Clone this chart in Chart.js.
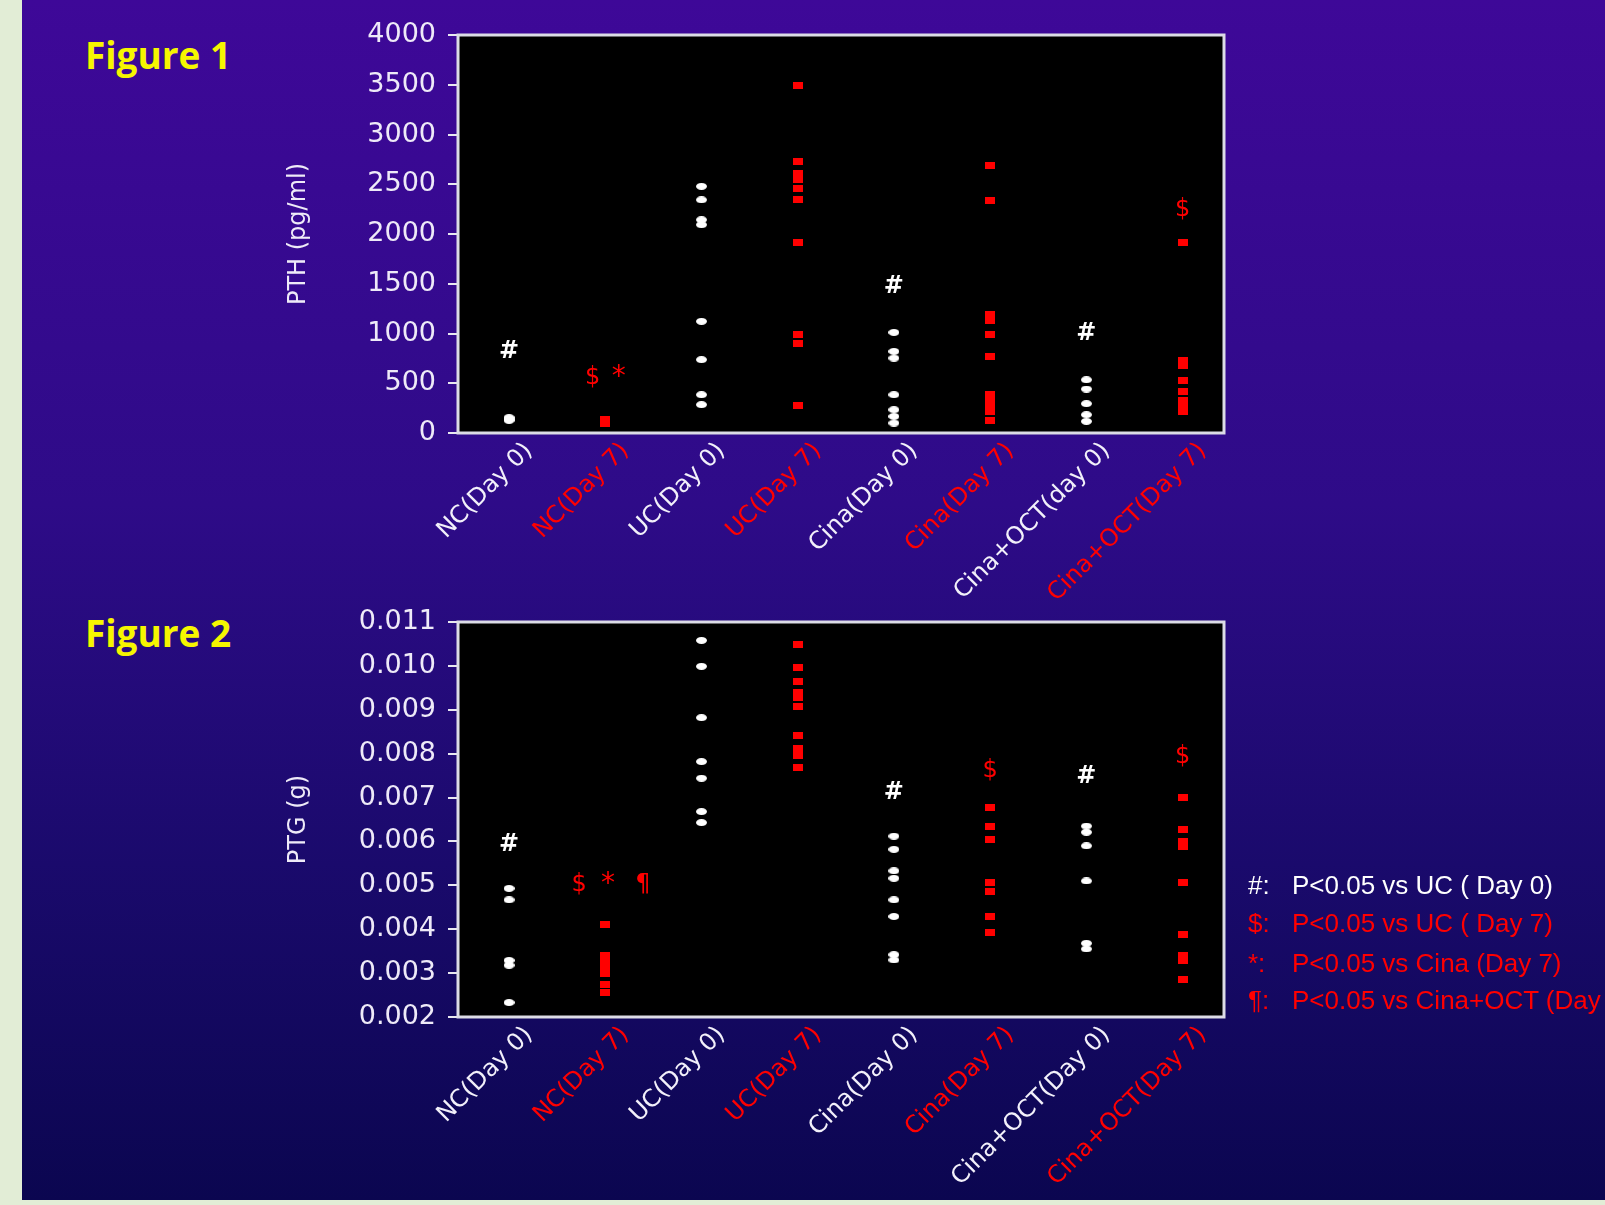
<!DOCTYPE html>
<html><head><meta charset="utf-8">
<script src="https://cdn.jsdelivr.net/npm/chart.js@4.4.1/dist/chart.umd.min.js"></script>
<style>
html,body{margin:0;padding:0;width:1605px;height:1205px;overflow:hidden;background:#e2edd6;position:relative;}
#bg{position:absolute;left:22px;top:0;width:1583px;height:1200px;background:linear-gradient(to bottom,#3e0898 0%,#2e0b88 42%,#1a0a6c 72%,#0b0650 100%);}
.fig{position:absolute;left:85px;font:700 37px "Open Sans";color:#f6f600;line-height:48px;white-space:nowrap;}
.cv{position:absolute;left:270px;}
.leg{position:absolute;font:26px "Liberation Sans";line-height:30px;white-space:nowrap;}
</style></head>
<body>
<div id="bg"></div>
<div class="fig" style="top:31px">Figure 1</div>
<div class="fig" style="top:609px">Figure 2</div>
<canvas id="c1" class="cv" style="top:0px" width="980" height="620"></canvas>
<canvas id="c2" class="cv" style="top:590px" width="980" height="610"></canvas>
<div class="leg" style="left:1248px;top:870px;color:#ffffff">#:</div><div class="leg" style="left:1292px;top:870px;color:#ffffff">P&lt;0.05 vs UC ( Day 0)</div>
<div class="leg" style="left:1248px;top:908px;color:#ff0000">$:</div><div class="leg" style="left:1292px;top:908px;color:#ff0000">P&lt;0.05 vs UC ( Day 7)</div>
<div class="leg" style="left:1248px;top:948px;color:#ff0000">*:</div><div class="leg" style="left:1292px;top:948px;color:#ff0000">P&lt;0.05 vs Cina (Day 7)</div>
<div class="leg" style="left:1248px;top:985px;color:#ff0000">¶:</div><div class="leg" style="left:1292px;top:985px;color:#ff0000">P&lt;0.05 vs Cina+OCT (Day 7)</div>
<script>
// ---------- data ----------
const categories1 = ['NC(Day 0)','NC(Day 7)','UC(Day 0)','UC(Day 7)','Cina(Day 0)','Cina(Day 7)','Cina+OCT(day 0)','Cina+OCT(Day 7)'];
const categories2 = ['NC(Day 0)','NC(Day 7)','UC(Day 0)','UC(Day 7)','Cina(Day 0)','Cina(Day 7)','Cina+OCT(Day 0)','Cina+OCT(Day 7)'];

const pthTicks = [0,500,1000,1500,2000,2500,3000,3500,4000];
const ptgTicks = [0.002,0.003,0.004,0.005,0.006,0.007,0.008,0.009,0.010,0.011];

// PTH (pg/ml)
const pthNC0 = [128,140,155];
const pthNC7 = [95,108,120,135];
const pthUC0 = [2479,2343,2143,2093,1122,737,385,285];
const pthUC7 = [3490,2730,2611,2544,2455,2350,1918,987,897,275];
const pthCina0 = [1011,820,753,385,234,167,100];
const pthCina7 = [2684,2336,1188,1128,987,770,385,328,274,218,127];
const pthCinaOCT0 = [535,442,295,184,117];
const pthCinaOCT7 = [1918,730,676,529,418,328,274,218];

// PTG (g)
const ptgNC0 = [0.00493,0.00467,0.00329,0.00318,0.00233];
const ptgNC7 = [0.00410,0.00340,0.00327,0.00314,0.00300,0.00274,0.00256];
const ptgUC0 = [0.01058,0.00999,0.00882,0.00782,0.00744,0.00668,0.00643];
const ptgUC7 = [0.01048,0.00996,0.00964,0.00940,0.00928,0.00907,0.00841,0.00811,0.00796,0.00769];
const ptgCina0 = [0.00612,0.00582,0.00533,0.00516,0.00467,0.00429,0.00342,0.00330];
const ptgCina7 = [0.00677,0.00634,0.00605,0.00507,0.00486,0.00429,0.00393];
const ptgCinaOCT0 = [0.00635,0.00621,0.00590,0.00510,0.00368,0.00355];
const ptgCinaOCT7 = [0.00701,0.00628,0.00601,0.00588,0.00507,0.00387,0.00340,0.00328,0.00286];

// significance marks: category position, value, symbol
const marks1X = [0, 0.87, 1.14, 4, 6, 7];
const marks1Y = [820, 552, 552, 1473, 997, 2243];
const marks1T = ['#','$','*','#','#','$'];
const marks2X = [0, 0.73, 1.03, 1.39, 4, 5, 6, 7];
const marks2Y = [0.00592, 0.00501, 0.00501, 0.00501, 0.00711, 0.00761, 0.00747, 0.00793];
const marks2T = ['#','$','*','¶','#','$','#','$'];

// ---------- styles ----------
const WHITE = '#ffffff', RED = '#ff0000';
function ellipseImg(){const c=document.createElement('canvas');c.width=11;c.height=7;const x=c.getContext('2d');x.fillStyle=WHITE;x.beginPath();x.ellipse(5.5,3.5,5.5,3.5,0,0,Math.PI*2);x.fill();return c;}
function rectImg(){const c=document.createElement('canvas');c.width=10;c.height=7;const x=c.getContext('2d');x.fillStyle=RED;x.fillRect(0,0,10,7);return c;}
const whiteMark = ellipseImg(), redMark = rectImg();

function pts(groups, idx){ let out=[]; idx.forEach((gi,k)=>{ groups[k].forEach(v=>out.push({x:gi,y:v})); }); return out; }

const bgPlugin = {
  id:'plotbg',
  beforeDatasetsDraw(chart){
    const {ctx, chartArea:a} = chart;
    ctx.save();
    ctx.fillStyle='#000'; ctx.fillRect(a.left,a.top,a.width,a.height);
    ctx.strokeStyle='#dcdce6'; ctx.lineWidth=3; ctx.strokeRect(a.left,a.top,a.width,a.height);
    ctx.restore();
  },
  afterDatasetsDraw(chart){
    const o = chart.options.plugins.plotbg; if(!o) return;
    const {ctx} = chart; const xs = chart.scales.x, ys = chart.scales.y;
    ctx.save(); ctx.textAlign='center'; ctx.textBaseline='middle';
    o.xs.forEach((xv,i)=>{
      const t=o.ts[i];
      ctx.fillStyle = (t==='#') ? WHITE : RED;
      ctx.font = (t==='#') ? 'bold 24px "DejaVu Sans"' : (t==='*' ? '28px "DejaVu Sans"' : '24px "DejaVu Sans"');
      ctx.fillText(t, xs.getPixelForValue(xv), ys.getPixelForValue(o.ys[i]));
    });
    ctx.restore();
  }
};

function makeChart(id, cats, groups, yTicks, yMin, yMax, dec, title, padTop, xH, marks){
  const whiteGroups=[groups[0],groups[2],groups[4],groups[6]];
  const redGroups=[groups[1],groups[3],groups[5],groups[7]];
  return new Chart(document.getElementById(id), {
    type:'scatter',
    data:{datasets:[
      {data:pts(whiteGroups,[0,2,4,6]), pointStyle:whiteMark, pointRadius:5, backgroundColor:WHITE, borderColor:WHITE},
      {data:pts(redGroups,[1,3,5,7]), pointStyle:redMark, pointRadius:5, backgroundColor:RED, borderColor:RED}
    ]},
    options:{
      responsive:false, animation:false, devicePixelRatio:1,
      layout:{padding:{top:padTop,right:26,left:0,bottom:0}},
      plugins:{legend:{display:false}, tooltip:{enabled:false}, plotbg:marks},
      scales:{
        x:{type:'linear', min:-0.53, max:7.43,
          afterBuildTicks:(s)=>{ s.ticks = cats.map((_,i)=>({value:i})); },
          afterFit:(s)=>{ s.height = xH; },
          grid:{display:false, drawTicks:false},
          border:{display:false},
          ticks:{autoSkip:false, minRotation:45, maxRotation:45, padding:4, labelOffset:20,
            callback:(v)=>cats[v],
            color:(c)=> (c.index%2===0 ? '#f2f0fa' : RED),
            font:{family:'DejaVu Sans', size:24}}
        },
        y:{min:yMin, max:yMax,
          afterBuildTicks:(s)=>{ s.ticks = yTicks.map(v=>({value:v})); },
          afterFit:(s)=>{ s.width = 188; },
          grid:{display:true, drawOnChartArea:false, drawTicks:true, tickLength:10, color:'#e8e8f0', lineWidth:2},
          border:{display:false},
          ticks:{padding:12, color:'#eeeaf8', font:{family:'DejaVu Sans', size:27},
            callback:(v)=> dec ? Number(v).toFixed(dec) : String(v)},
          title:{display:true, text:title, color:'#eeeaf8', font:{family:'DejaVu Sans', size:24}, padding:{top:14,bottom:0}}
        }
      }
    },
    plugins:[bgPlugin]
  });
}

makeChart('c1', categories1,
  [pthNC0,pthNC7,pthUC0,pthUC7,pthCina0,pthCina7,pthCinaOCT0,pthCinaOCT7],
  pthTicks, 0, 4000, 0, 'PTH (pg/ml)', 35, 187,
  {xs:marks1X, ys:marks1Y, ts:marks1T});
makeChart('c2', categories2,
  [ptgNC0,ptgNC7,ptgUC0,ptgUC7,ptgCina0,ptgCina7,ptgCinaOCT0,ptgCinaOCT7],
  ptgTicks, 0.002, 0.011, 3, 'PTG (g)', 32, 183,
  {xs:marks2X, ys:marks2Y, ts:marks2T});
</script>
</body></html>
